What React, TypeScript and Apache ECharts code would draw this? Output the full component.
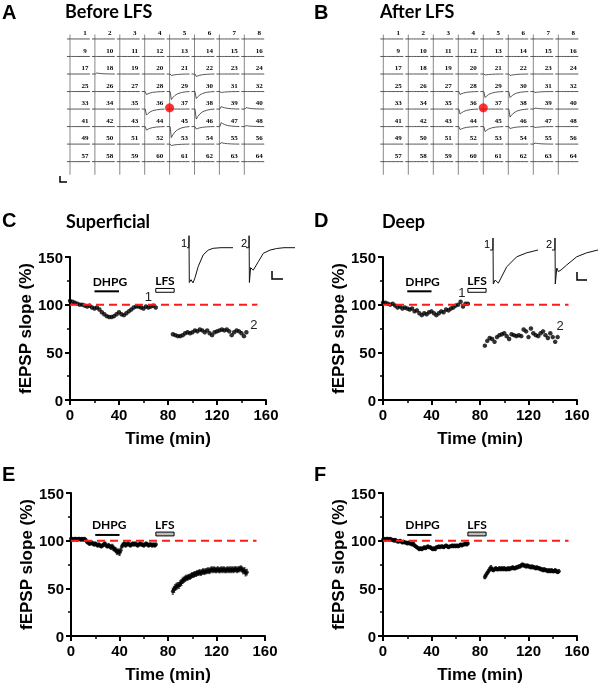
import React, { useEffect, useRef } from "react";
import * as echarts from "echarts";

// ---------------- Data ----------------
// Multi-electrode array (8 x 8), electrode numbers
const ELECTRODES: number[] = Array.from({ length: 64 }, (_, i) => i + 1);
// Evoked response amplitude per electrode (µV, negative deflection positive), others flat
const RESP_BEFORE: [number, number][] = [
  [18, -30], [21, 45], [22, 75], [28, 90], [29, 240], [30, 210], [31, 30],
  [36, 180], [38, 300], [39, -75], [40, -45], [44, 105], [45, 330], [46, 75],
  [47, -120], [48, -30], [53, 45], [55, -45],
];
const RESP_AFTER: [number, number][] = [
  [21, 30], [22, 45], [28, 90], [29, 180], [30, 180], [31, 30], [36, 150],
  [38, 240], [39, -30], [44, 90], [45, 150], [46, 60], [47, 30], [55, -30],
];
const STIM_SITE: [number, number] = [4, 3.93];
const ROW_UV = 525;
// fEPSP waveform template (fraction of cell width, fraction of amplitude)
const WAVE: [number, number][] = [
  [-0.12, 0], [0.02, 0], [0.07, 1], [0.13, 0.75], [0.21, 0.5], [0.32, 0.28],
  [0.48, 0.12], [0.64, 0.04], [0.8, 0],
];

// Panel C (superficial) – single experiment, 2-min bins
const C_T1: number[] = Array.from({ length: 36 }, (_, i) => i * 2);
const C_V1: number[] = [104, 103, 102, 101, 100, 100, 99, 98, 99, 97, 96, 97, 95, 92, 90, 88, 87, 87, 88, 90, 92, 90, 89, 91, 93, 95, 97, 98, 98, 97, 96, 98, 97, 98, 99, 97];
const C_T2: number[] = Array.from({ length: 31 }, (_, i) => 84 + i * 2);
const C_V2: number[] = [69, 68, 67, 67, 68, 70, 71, 70, 71, 73, 72, 74, 73, 71, 73, 70, 68, 71, 72, 73, 74, 73, 74, 72, 68, 71, 73, 72, 70, 67, 71];

// Panel D (deep)
const D_T1: number[] = C_T1;
const D_V1: number[] = [102, 102, 101, 100, 101, 99, 97, 98, 96, 97, 96, 95, 96, 93, 94, 91, 89, 91, 90, 92, 93, 91, 89, 91, 93, 92, 95, 94, 96, 97, 99, 100, 103, 98, 101, 101];
const D_T2: number[] = C_T2;
const D_V2: number[] = [57, 62, 65, 64, 61, 66, 68, 69, 70, 67, 64, 69, 68, 67, 68, 67, 74, 72, 66, 75, 70, 68, 67, 70, 72, 68, 65, 70, 66, 61, 66];

// Panel E (superficial, mean ± SEM, 1-min bins)
const E_T1: number[] = Array.from({ length: 71 }, (_, i) => i);
const E_V1: number[] = [
  102, 102, 101, 102, 102, 101, 102, 102, 101, 102, 101, 102, 101,
  99, 98, 97, 97, 98, 97, 96, 97,
  96, 95, 96, 95, 94, 95, 96, 97, 95, 94,
  95, 94, 93, 94, 92, 91, 90, 88, 89, 87,
  90, 94, 96, 97, 95, 96, 97, 96, 95, 96,
  97, 96, 97, 96, 95, 96, 97, 96, 96, 95,
  96, 97, 96, 95, 96, 96, 95, 96, 95, 96,
];
const E_ERR1: number[] = [
  1.2, 1.2, 1.2, 1.2, 1.2, 1.2, 1.2, 1.2, 1.2, 1.2, 1.2, 1.2, 1.2,
  1.5, 1.5, 1.6, 1.5, 1.5, 1.6, 1.5, 1.5,
  1.6, 1.5, 1.5, 1.6, 1.5, 1.5, 1.6, 1.5, 1.5, 1.6,
  2.2, 2.0, 2.3, 2.2, 2.4, 2.2, 2.5, 2.6, 2.4, 2.6,
  2.2, 1.5, 1.5, 1.5, 1.5, 1.5, 1.5, 1.5, 1.5, 1.5,
  1.5, 1.5, 1.5, 1.5, 1.5, 1.5, 1.5, 1.5, 1.5, 1.5,
  1.5, 1.5, 1.5, 1.5, 1.5, 1.5, 1.5, 1.5, 1.5, 1.5,
];
const E_T2: number[] = Array.from({ length: 62 }, (_, i) => 84 + i);
const E_V2: number[] = [
  47, 49, 51, 52, 53, 53, 55,
  56, 58, 59, 60, 61, 61, 62, 62, 63, 64,
  64, 65, 65, 66, 66, 67, 66, 67, 68, 67,
  68, 68, 69, 68, 69, 70, 69, 70, 69, 69,
  70, 69, 69, 70, 69, 70, 69, 69, 70, 69,
  70, 69, 70, 69, 70, 70, 69, 70, 70, 71,
  70, 68, 69, 66, 67,
];
const E_ERR2: number[] = [
  3.2, 3.2, 3.0, 3.2, 3.0, 3.0, 3.0,
  3.0, 2.8, 2.8, 2.8, 2.8, 2.6, 2.6, 2.6, 2.6, 2.6,
  2.6, 2.6, 2.6, 2.6, 2.6, 2.6, 2.6, 2.6, 2.6, 2.6,
  2.6, 2.6, 2.6, 2.6, 2.6, 2.6, 2.6, 2.6, 2.6, 2.6,
  2.6, 2.6, 2.6, 2.6, 2.6, 2.6, 2.6, 2.6, 2.6, 2.6,
  2.6, 2.6, 2.6, 2.6, 2.6, 2.6, 2.6, 2.6, 2.6, 2.6,
  2.6, 2.8, 2.8, 3.0, 3.0,
];

// Panel F (deep, mean ± SEM)
const F_T1: number[] = E_T1;
const F_V1: number[] = [
  101, 102, 101, 102, 102, 101, 102, 101, 101, 100, 101,
  100, 99, 99, 100, 99, 98, 99, 98, 98, 97,
  98, 97, 97, 96, 97, 95, 94, 93, 92, 91,
  92, 91, 92, 93, 92, 93, 94, 93, 93, 92,
  91, 92, 91, 93, 93, 94, 93, 94, 94, 93,
  94, 95, 94, 93, 94, 94, 95, 94, 95, 94,
  95, 94, 95, 96, 95, 96, 96, 97, 96, 97,
];
const F_ERR1: number[] = [
  1.0, 1.0, 1.0, 1.0, 1.0, 1.0, 1.0, 1.0, 1.0, 1.0, 1.0,
  1.1, 1.1, 1.1, 1.1, 1.1, 1.1, 1.1, 1.1, 1.1, 1.1,
  1.2, 1.2, 1.2, 1.2, 1.2, 1.2, 1.3, 1.3, 1.3, 1.3,
  1.3, 1.3, 1.3, 1.3, 1.3, 1.3, 1.3, 1.3, 1.3, 1.3,
  1.2, 1.2, 1.2, 1.2, 1.2, 1.2, 1.2, 1.2, 1.2, 1.2,
  1.2, 1.2, 1.2, 1.2, 1.2, 1.2, 1.2, 1.2, 1.2, 1.2,
  1.2, 1.2, 1.2, 1.2, 1.2, 1.2, 1.2, 1.2, 1.2, 1.2,
];
const F_T2: number[] = E_T2;
const F_V2: number[] = [
  62, 64, 66, 68, 70, 72, 70,
  69, 70, 71, 70, 70, 71, 70, 71, 70, 71,
  70, 70, 71, 70, 71, 71, 72, 71, 71, 72,
  72, 73, 73, 74, 75, 74, 74, 73, 74, 73,
  73, 72, 73, 72, 72, 71, 72, 71, 71, 70,
  70, 69, 70, 69, 69, 68, 69, 68, 69, 68,
  68, 69, 68, 67, 68,
];
const F_ERR2: number[] = [
  2.0, 2.0, 1.8, 1.8, 1.8, 1.8, 1.6,
  1.5, 1.5, 1.5, 1.5, 1.5, 1.5, 1.5, 1.5, 1.5, 1.5,
  1.5, 1.5, 1.5, 1.5, 1.5, 1.5, 1.5, 1.5, 1.5, 1.5,
  1.5, 1.5, 1.5, 1.5, 1.5, 1.5, 1.5, 1.5, 1.5, 1.5,
  1.5, 1.5, 1.5, 1.5, 1.5, 1.5, 1.5, 1.5, 1.5, 1.5,
  1.5, 1.5, 1.5, 1.5, 1.5, 1.5, 1.5, 1.5, 1.5, 1.5,
  1.5, 1.5, 1.5, 1.5, 1.5,
];

// Sample fEPSP traces (ms, mV) at time points 1 and 2
const C_TRACE1: [number, number][] = [[0, 0], [0.9, 0], [1.0, 0.3], [1.15, -0.87], [2.0, -0.8], [3, -0.88], [4, -0.75], [5.6, -0.47], [8.1, -0.18], [10.6, -0.06], [13.1, -0.015], [17, 0], [23, 0]];
const C_TRACE2: [number, number][] = [[0, 0], [1.45, 0], [1.55, 0.3], [1.7, -0.87], [2.3, -0.5], [3.65, -0.56], [6.15, -0.35], [8.65, -0.14], [12, -0.06], [15.35, -0.02], [19, 0], [24.5, 0]];
const D_TRACE1: [number, number][] = [[0, 0], [1.4, 0], [1.5, 0.3], [1.65, -0.85], [2.6, -0.75], [4.15, -0.83], [5.5, -0.7], [8.35, -0.42], [13.35, -0.17], [18.35, -0.07], [24, 0]];
const D_TRACE2: [number, number][] = [[0, 0], [1.4, 0], [1.5, 0.3], [1.65, -0.85], [2.4, -0.45], [3.15, -0.54], [4.5, -0.5], [7.35, -0.375], [12.35, -0.17], [17.35, -0.07], [23, 0]];

// Annotations
const BASELINE = 100;
const BASELINE_END = 153;
const DHPG_WINDOW: [number, number] = [20, 40];
const LFS_WINDOW: [number, number] = [70, 85];
const X_TICKS = { min: 0, max: 160, interval: 40 };
const Y_TICKS = { min: 0, max: 150, interval: 50 };

// ---------------- Styling ----------------
const SANS = "Liberation Sans, Arial, sans-serif";
const CAL = "Lato, Liberation Sans, sans-serif";
const SERIF = "Liberation Serif, serif";
const BLACK = "#000000";

const zip = (t: number[], v: number[]) => t.map((x, i) => [x, v[i]]);

function mapSeries(gi: number, resp: [number, number][]) {
  const ampMap = new Map(resp);
  const data = ELECTRODES.map((n) => [(n - 1) % 8, Math.floor((n - 1) / 8), ampMap.get(n) || 0, n]);
  return [
    {
      type: "custom",
      xAxisIndex: gi,
      yAxisIndex: gi,
      silent: true,
      itemStyle: { color: BLACK },
      data,
      renderItem: (_p: any, api: any) => {
        const col = api.value(0), row = api.value(1), amp = api.value(2), num = api.value(3);
        const base = api.coord([col, row]);
        const rowPx = api.size([0, 1])[1];
        const aPx = (amp / ROW_UV) * rowPx;
        const pts = WAVE.map(([fx, fy]) => {
          const p = api.coord([col + fx, row]);
          return [p[0], p[1] + aPx * fy];
        });
        const top = api.coord([col, row - 0.25]);
        const bot = api.coord([col, row + 0.75]);
        const lab = api.coord([col + 0.6, row - 0.34]);
        return {
          type: "group",
          children: [
            { type: "line", shape: { x1: base[0], y1: top[1], x2: base[0], y2: bot[1] }, style: { stroke: "#888", lineWidth: 1 } },
            { type: "polyline", shape: { points: pts }, style: { stroke: "#444", lineWidth: 0.9, fill: null } },
            { type: "text", x: lab[0], y: lab[1], style: { text: String(num), fontSize: 7, fontWeight: "bold", fontFamily: SERIF, fill: BLACK, align: "center", verticalAlign: "middle" } },
          ],
        };
      },
    },
    {
      type: "scatter",
      xAxisIndex: gi,
      yAxisIndex: gi,
      silent: true,
      data: [STIM_SITE],
      symbolSize: 9,
      itemStyle: { color: "#ff0000" },
      z: 5,
    },
  ];
}

type Lbl = { t: number; v: number; text: string; kind: "hdr" | "num" };

function panelSeries(
  gi: number,
  t1: number[], v1: number[], t2: number[], v2: number[],
  barLevel: number, boxLevel: [number, number], boxFill: string,
  labels: Lbl[], err1?: number[], err2?: number[]
) {
  const pts = [...zip(t1, v1), ...zip(t2, v2)];
  const s: any[] = [];
  if (err1 && err2) {
    const ed = [...t1.map((t, i) => [t, v1[i], err1[i]]), ...t2.map((t, i) => [t, v2[i], err2[i]])];
    s.push({
      type: "custom", xAxisIndex: gi, yAxisIndex: gi, silent: true, data: ed, z: 2,
      itemStyle: { color: BLACK },
      renderItem: (_p: any, api: any) => {
        const t = api.value(0), v = api.value(1), e = api.value(2);
        const hi = api.coord([t, v + e]);
        const lo = api.coord([t, v - e]);
        const st = { stroke: "#222", lineWidth: 0.8 };
        return {
          type: "group",
          children: [
            { type: "line", shape: { x1: hi[0], y1: hi[1], x2: lo[0], y2: lo[1] }, style: st },
            { type: "line", shape: { x1: hi[0] - 1.2, y1: hi[1], x2: hi[0] + 1.2, y2: hi[1] }, style: st },
            { type: "line", shape: { x1: lo[0] - 1.2, y1: lo[1], x2: lo[0] + 1.2, y2: lo[1] }, style: st },
          ],
        };
      },
    });
  }
  s.push({
    type: "scatter", xAxisIndex: gi, yAxisIndex: gi, silent: true, data: pts,
    symbol: "circle", symbolSize: err1 ? 4 : 4.5, itemStyle: { color: BLACK }, z: 3,
  });
  s.push({
    type: "line", xAxisIndex: gi, yAxisIndex: gi, silent: true,
    data: [[0, BASELINE], [BASELINE_END, BASELINE]], symbol: "none",
    itemStyle: { color: "#ff1a1a" },
    lineStyle: { color: "#ff1a1a", width: 2, type: [8, 5] }, z: 4,
  });
  s.push({
    type: "line", xAxisIndex: gi, yAxisIndex: gi, silent: true,
    data: [[DHPG_WINDOW[0], barLevel], [DHPG_WINDOW[1], barLevel]], symbol: "none",
    itemStyle: { color: BLACK },
    lineStyle: { color: BLACK, width: 2 }, z: 4,
  });
  s.push({
    type: "custom", xAxisIndex: gi, yAxisIndex: gi, silent: true, z: 4,
    itemStyle: { color: boxFill },
    data: [[LFS_WINDOW[0], LFS_WINDOW[1], boxLevel[0], boxLevel[1]]],
    renderItem: (_p: any, api: any) => {
      const a = api.coord([api.value(0), api.value(3)]);
      const b = api.coord([api.value(1), api.value(2)]);
      return {
        type: "rect",
        shape: { x: a[0], y: a[1], width: b[0] - a[0], height: b[1] - a[1] },
        style: { fill: boxFill, stroke: BLACK, lineWidth: 1 },
      };
    },
  });
  s.push({
    type: "custom", xAxisIndex: gi, yAxisIndex: gi, silent: true, z: 5,
    itemStyle: { color: BLACK },
    data: labels.map((l) => [l.t, l.v]),
    renderItem: (p: any, api: any) => {
      const l = labels[p.dataIndex];
      const c = api.coord([api.value(0), api.value(1)]);
      const hdr = l.kind === "hdr";
      return {
        type: "text", x: c[0], y: c[1],
        style: {
          text: l.text, fontSize: hdr ? 12 : 13, fontWeight: hdr ? "bold" : "normal",
          fontFamily: hdr ? CAL : SANS, fill: hdr ? BLACK : "#222222", align: "center", verticalAlign: "middle",
        },
      };
    },
  });
  return s;
}

function traceSeries(gi: number, tr: [number, number][]) {
  return {
    type: "line", xAxisIndex: gi, yAxisIndex: gi, silent: true, data: tr, symbol: "none",
    itemStyle: { color: "#111111" },
    lineStyle: { color: "#111111", width: 1 },
  };
}

const axisCommon = {
  axisLine: { show: true, onZero: false, lineStyle: { color: BLACK, width: 2 } },
  axisTick: { show: true, inside: false, length: 5, lineStyle: { width: 2, color: BLACK } },
  minorTick: { show: true, splitNumber: 2, length: 3, lineStyle: { width: 1.5, color: BLACK } },
  splitLine: { show: false },
  minorSplitLine: { show: false },
  nameTextStyle: { color: BLACK, fontFamily: SANS, fontWeight: "bold", fontSize: 17 },
};

function plotAxes(gi: number) {
  return {
    x: {
      ...axisCommon, gridIndex: gi, type: "value", ...X_TICKS,
      name: "Time (min)", nameLocation: "middle", nameGap: 30,
      axisLabel: { color: BLACK, fontFamily: SANS, fontWeight: "bold", fontSize: 15, margin: 7 },
    },
    y: {
      ...axisCommon, gridIndex: gi, type: "value", ...Y_TICKS,
      name: "fEPSP slope (%)", nameLocation: "middle", nameGap: 34,
      axisLabel: { color: BLACK, fontFamily: SANS, fontWeight: "bold", fontSize: 15, margin: 7 },
    },
  };
}

function hiddenAxes(gi: number, xr: [number, number], yr: [number, number], inverse = false) {
  return {
    x: { gridIndex: gi, type: "value", min: xr[0], max: xr[1], show: false },
    y: { gridIndex: gi, type: "value", min: yr[0], max: yr[1], show: false, inverse },
  };
}

function buildOption() {
  const grids = [
    { left: 70, top: 33.7, width: 199.2, height: 140.2 },
    { left: 383.3, top: 33.7, width: 200, height: 140.2 },
    { left: 70, top: 257, width: 196, height: 143 },
    { left: 383, top: 257, width: 194, height: 143 },
    { left: 71, top: 493, width: 194, height: 143 },
    { left: 383, top: 493, width: 194, height: 143 },
    { left: 187, top: 233.7, width: 49, height: 50 },
    { left: 246, top: 233.7, width: 49, height: 50 },
    { left: 490, top: 236, width: 49, height: 50 },
    { left: 552, top: 236, width: 49, height: 50 },
  ].map((g) => ({ ...g, containLabel: false, outerBoundsMode: "none" }));

  const axes = [
    hiddenAxes(0, [0, 8], [-0.3, 7.7], true),
    hiddenAxes(1, [0, 8], [-0.3, 7.7], true),
    plotAxes(2), plotAxes(3), plotAxes(4), plotAxes(5),
    hiddenAxes(6, [0, 24.5], [-0.9, 0.35]),
    hiddenAxes(7, [0, 24.5], [-0.9, 0.35]),
    hiddenAxes(8, [0, 24.5], [-0.9, 0.35]),
    hiddenAxes(9, [0, 24.5], [-0.9, 0.35]),
  ];

  const series: any[] = [
    ...mapSeries(0, RESP_BEFORE),
    ...mapSeries(1, RESP_AFTER),
    ...panelSeries(2, C_T1, C_V1, C_T2, C_V2, 114, [113, 117], "#ffffff", [
      { t: 32.6, v: 124, text: "DHPG", kind: "hdr" },
      { t: 77.5, v: 125, text: "LFS", kind: "hdr" },
      { t: 64, v: 109, text: "1", kind: "num" },
      { t: 150, v: 79, text: "2", kind: "num" },
    ]),
    ...panelSeries(3, D_T1, D_V1, D_T2, D_V2, 114, [113, 117], "#ffffff", [
      { t: 32.6, v: 124, text: "DHPG", kind: "hdr" },
      { t: 77.5, v: 125, text: "LFS", kind: "hdr" },
      { t: 65, v: 113, text: "1", kind: "num" },
      { t: 146, v: 78, text: "2", kind: "num" },
    ]),
    ...panelSeries(4, E_T1, E_V1, E_T2, E_V2, 106, [105, 109], "#bdbdbd", [
      { t: 31.5, v: 116.5, text: "DHPG", kind: "hdr" },
      { t: 77.3, v: 116.5, text: "LFS", kind: "hdr" },
    ], E_ERR1, E_ERR2),
    ...panelSeries(5, F_T1, F_V1, F_T2, F_V2, 106, [105, 109], "#bdbdbd", [
      { t: 32.6, v: 116.5, text: "DHPG", kind: "hdr" },
      { t: 77.5, v: 116.5, text: "LFS", kind: "hdr" },
    ], F_ERR1, F_ERR2),
    traceSeries(6, C_TRACE1),
    traceSeries(7, C_TRACE2),
    traceSeries(8, D_TRACE1),
    traceSeries(9, D_TRACE2),
  ];

  const letter = (text: string, x: number, y: number) => ({
    type: "text", x, y, silent: true,
    style: { text, fontSize: 20, fontWeight: "bold", fontFamily: SANS, fill: BLACK, verticalAlign: "middle", align: "left" },
  });
  const title = (text: string, x: number, y: number) => ({
    type: "text", x, y, silent: true,
    style: { text, fontSize: 18, fontWeight: "bold", fontFamily: CAL, fill: BLACK, verticalAlign: "middle", align: "left" },
  });
  const small = (text: string, x: number, y: number) => ({
    type: "text", x, y, silent: true,
    style: { text, fontSize: 11, fontFamily: SANS, fill: BLACK, verticalAlign: "middle", align: "center" },
  });
  const bar = (pts: number[][]) => ({
    type: "polyline", silent: true, shape: { points: pts }, style: { stroke: BLACK, lineWidth: 1.5, fill: null },
  });

  const graphic = [
    letter("A", 2, 12), title("Before LFS", 65, 11),
    letter("B", 314, 12), title("After LFS", 380, 11),
    letter("C", 2, 220), title("Superficial", 66, 221),
    letter("D", 314, 220), title("Deep", 382, 221),
    letter("E", 2, 474), letter("F", 314, 474),
    small("1", 184, 243), small("2", 244, 243),
    small("1", 487, 244), small("2", 549, 244),
    bar([[60, 176], [60, 182], [67, 182]]),
    bar([[272, 271], [272, 279], [283, 279]]),
    bar([[577, 272], [577, 280], [587, 280]]),
  ];

  return {
    animation: false,
    backgroundColor: "#fff",
    color: [BLACK],
    grid: grids,
    xAxis: axes.map((a) => a.x),
    yAxis: axes.map((a) => a.y),
    series,
    graphic,
  };
}

export default function App() {
  const ref = useRef<HTMLDivElement>(null);
  useEffect(() => {
    if (!ref.current) return;
    const chart = echarts.init(ref.current, undefined, { renderer: "svg" });
    chart.setOption(buildOption() as any);
    return () => chart.dispose();
  }, []);
  return (
    <div
      ref={ref}
      style={{
        width: 600, height: 689, position: "absolute", left: 0, top: 0,
        willChange: "transform", transform: "translateZ(0)",
        WebkitFontSmoothing: "antialiased",
      } as any}
    />
  );
}
